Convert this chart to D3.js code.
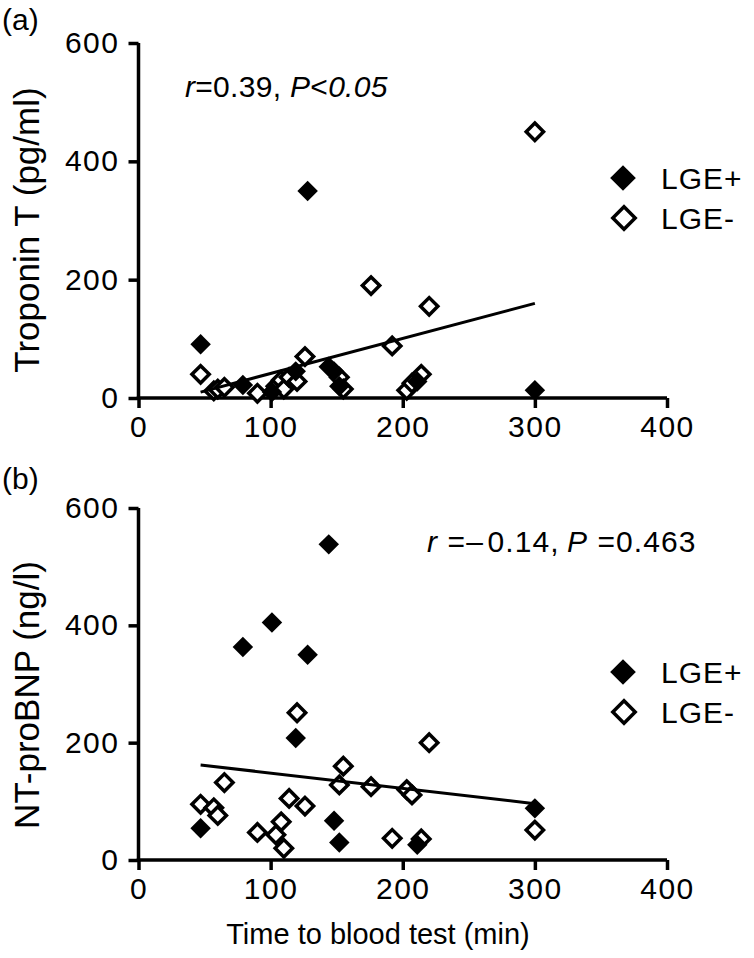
<!DOCTYPE html>
<html><head><meta charset="utf-8">
<script src="https://cdn.jsdelivr.net/npm/d3@7"></script>
<style>
body{margin:0;background:#fff}
text{font-family:"Liberation Sans",Arial,Helvetica,sans-serif;fill:#000}
</style>
</head><body>
<svg id="chart" width="754" height="958"></svg>
<script>
// ---------- data ----------
const xTicks = [0, 100, 200, 300, 400];
const yTicks = [0, 200, 400, 600];
const seriesNames = ["LGE+", "LGE-"];

// Panel (a): Troponin T (pg/ml)
const aPosTime  = [47, 79, 101, 119, 128, 144, 148, 152, 211, 300];
const aPosValue = [91, 22, 10, 45, 350, 53, 45, 20, 28, 13];
const aNegTime  = [47, 57, 60, 65, 90, 104, 108, 110, 114, 120, 126, 152, 155, 176, 192, 203, 207, 214, 220, 300];
const aNegValue = [40, 12, 15, 18, 8, 20, 30, 15, 35, 28, 70, 35, 15, 190, 88, 13, 25, 40, 155, 450];
const aFitTime  = [47, 300];
const aFitValue = [10, 160];

// Panel (b): NT-proBNP (ng/l)
const bPosTime  = [47, 79, 101, 119, 128, 144, 148, 152, 211, 300];
const bPosValue = [54, 363, 405, 208, 350, 538, 67, 30, 26, 88];
const bNegTime  = [47, 57, 60, 65, 90, 104, 108, 110, 114, 120, 126, 152, 155, 176, 192, 203, 207, 214, 220, 300];
const bNegValue = [95, 89, 76, 132, 47, 43, 65, 20, 105, 251, 92, 128, 160, 125, 37, 120, 111, 36, 200, 51];
const bFitTime  = [47, 300];
const bFitValue = [162, 96];

// ---------- drawing ----------
const svg = d3.select("#chart");
const FS = 30;
const AXW = 3.5;

const x = d3.scaleLinear().domain([0, 400]).range([138.5, 667]);

const panels = [
  {label: "(a)", labelY: 30, yRange: [398, 43], title: "Troponin T (pg/ml)", titleY: 230,
   pos: [aPosTime, aPosValue], neg: [aNegTime, aNegValue], fit: [aFitTime, aFitValue],
   ann: {x: 185, y: 97, ls: 0.3, parts: [["r", true], ["=0.39, ", false], ["P", true], ["<", false], ["0.05", true]]},
   legend: {x: 623, y: 178}},
  {label: "(b)", labelY: 489, yRange: [860, 508], title: "NT-proBNP (ng/l)", titleY: 695,
   pos: [bPosTime, bPosValue], neg: [bNegTime, bNegValue], fit: [bFitTime, bFitValue],
   ann: {x: 427, y: 552, ls: 1.1, parts: [["r", true], [" =\u2013\u200A0.14,\u2009", false], ["P", true], [" =0.463", false]]},
   legend: {x: 623, y: 672}}
];

const diamondFilled = d3.symbol().type(d3.symbolSquare).size(210);
const diamondOpen = d3.symbol().type(d3.symbolSquare).size(150);
const legFilled = d3.symbol().type(d3.symbolSquare).size(330);
const legOpen = d3.symbol().type(d3.symbolSquare).size(250);

panels.forEach((p, i) => {
  const y = d3.scaleLinear().domain([0, 600]).range(p.yRange);
  const g = svg.append("g");

  // panel label
  g.append("text").attr("x", 2).attr("y", p.labelY).attr("font-size", FS).text(p.label);

  // axes
  const xa = g.append("g").attr("transform", `translate(0,${p.yRange[0]})`)
    .call(d3.axisBottom(x).tickValues(xTicks).tickSize(10).tickSizeOuter(0).tickPadding(8));
  const ya = g.append("g").attr("transform", `translate(${x.range()[0]},0)`)
    .call(d3.axisLeft(y).tickValues(yTicks).tickSize(10).tickSizeOuter(0).tickPadding(8));
  [xa, ya].forEach(a => {
    a.select(".domain").attr("stroke", "#000").attr("stroke-width", AXW);
    a.selectAll(".tick line").attr("stroke", "#000").attr("stroke-width", AXW);
    a.selectAll(".tick text").attr("font-size", FS).attr("font-family", '"Liberation Sans",Arial,sans-serif')
      .attr("fill", "#000").attr("letter-spacing", 1.5);
  });
  ya.selectAll(".tick text").attr("x", -19);
  ya.select(".domain").attr("d", `M0,${p.yRange[1]}V${p.yRange[0] + AXW/2}`);
  xa.select(".domain").attr("d", `M${x.range()[0] - AXW/2},0H${x.range()[1]}`);

  // y-axis title
  g.append("text")
    .attr("transform", `translate(39,${p.titleY}) rotate(-90)`)
    .attr("text-anchor", "middle").attr("font-size", 35).text(p.title);

  // open points (LGE-)
  const negData = p.neg[0].map((t, k) => [t, p.neg[1][k]]);
  g.selectAll(".neg").data(negData).enter().append("path")
    .attr("d", diamondOpen)
    .attr("transform", d => `translate(${x(d[0])},${y(d[1])}) rotate(45)`)
    .attr("fill", "#fff").attr("stroke", "#000").attr("stroke-width", 3.5);

  // regression line
  const fitData = p.fit[0].map((t, k) => [t, p.fit[1][k]]);
  g.append("path").datum(fitData)
    .attr("d", d3.line().x(d => x(d[0])).y(d => y(d[1])))
    .attr("stroke", "#000").attr("stroke-width", 3).attr("fill", "none");

  // filled points (LGE+)
  const posData = p.pos[0].map((t, k) => [t, p.pos[1][k]]);
  g.selectAll(".pos").data(posData).enter().append("path")
    .attr("d", diamondFilled)
    .attr("transform", d => `translate(${x(d[0])},${y(d[1])}) rotate(45)`)
    .attr("fill", "#000");

  // annotation
  const at = g.append("text").attr("x", p.ann.x).attr("y", p.ann.y).attr("font-size", FS)
    .attr("letter-spacing", p.ann.ls).style("white-space", "pre");
  p.ann.parts.forEach(([s, it]) => at.append("tspan").attr("font-style", it ? "italic" : "normal").text(s));

  // legend
  const L = p.legend;
  g.append("path").attr("d", legFilled).attr("transform", `translate(${L.x},${L.y}) rotate(45)`).attr("fill", "#000");
  g.append("path").attr("d", legOpen).attr("transform", `translate(${L.x + 1},${L.y + 40}) rotate(45)`)
    .attr("fill", "#fff").attr("stroke", "#000").attr("stroke-width", 3.5);
  g.append("text").attr("x", L.x + 38).attr("y", L.y + 11).attr("font-size", FS).attr("letter-spacing", 1).text(seriesNames[0]);
  g.append("text").attr("x", L.x + 38).attr("y", L.y + 51).attr("font-size", FS).attr("letter-spacing", 1).text(seriesNames[1]);

  // x-axis title (bottom panel only)
  if (i === 1) {
    g.append("text").attr("x", 378).attr("y", 944).attr("text-anchor", "middle")
      .attr("font-size", 29).text("Time to blood test (min)");
  }
});
</script>
</body></html>
